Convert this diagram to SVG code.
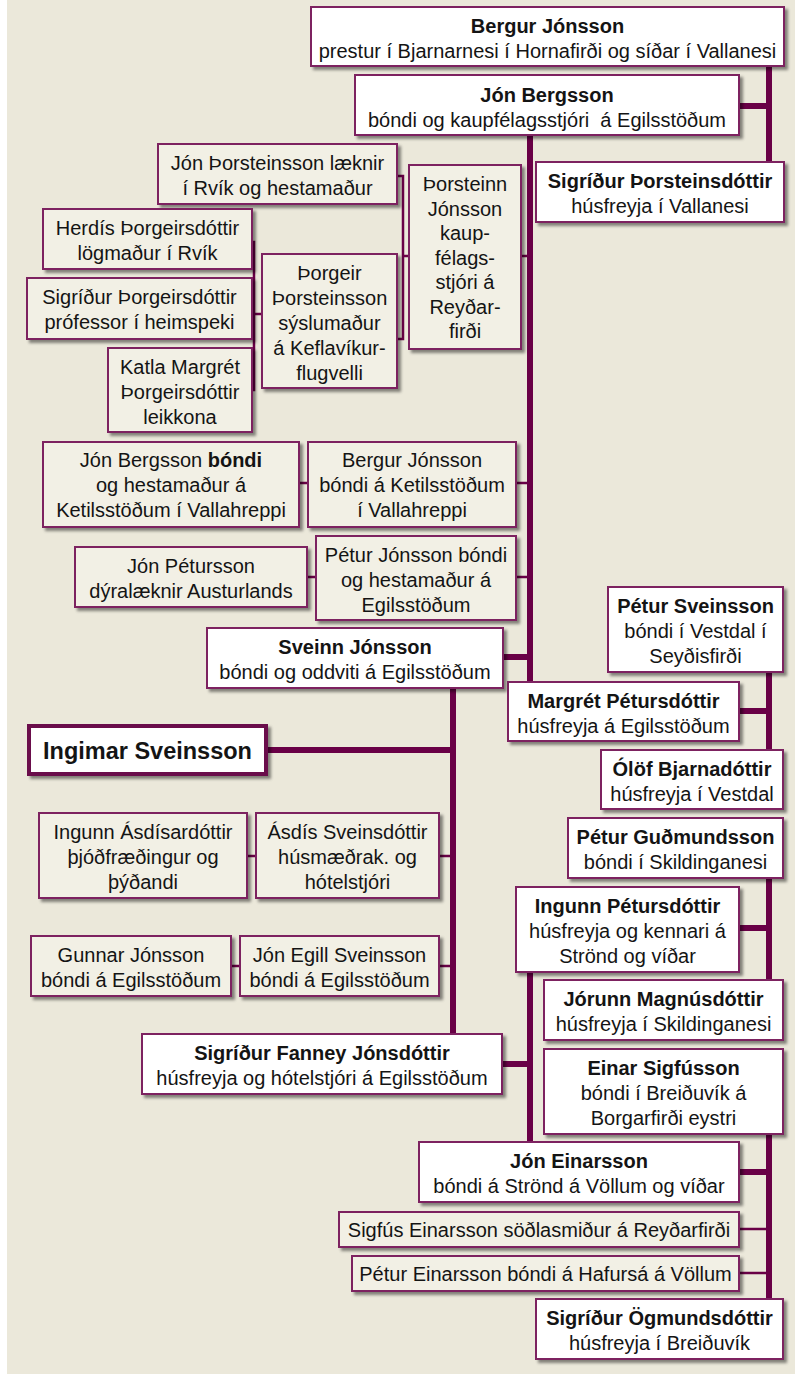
<svg xmlns="http://www.w3.org/2000/svg" width="795" height="1375" viewBox="0 0 795 1375">
<defs>
<filter id="sh" x="-10%" y="-10%" width="130%" height="140%">
<feDropShadow dx="3" dy="3" stdDeviation="1.6" flood-color="#000" flood-opacity="0.45"/>
</filter>
<style>
text{font-family:"Liberation Sans",Arial,sans-serif;font-size:20px;fill:#141414;text-anchor:middle}
.b{font-weight:bold}
.w{fill:#ffffff;stroke:#7d2461;stroke-width:2;filter:url(#sh)}
.s{fill:#f2f0e5;stroke:#7d2461;stroke-width:2;filter:url(#sh)}
.k{stroke:#690046;stroke-width:6;fill:none}
.th{stroke:#690046;stroke-width:2.5;fill:none}
</style>
</defs>
<rect x="0" y="0" width="795" height="1375" fill="#ffffff"/>
<rect x="7" y="0" width="788" height="1374" fill="#ebe8da"/>
<g id="connectors">
<path class="k" d="M769 66V162M739 106H769M530 135V682M503 657H530M453 688V1034M266 750H453M769 672V750M739 711H769M769 878V980M739 928H769M530 972V1142M502 1064H530M769 1134V1299M739 1172H769"/>
<path class="th" d="M521 256H530M397 176H403V339H397M403 256H409M252 242H254V390H252M252 314H262M299 483H308M516 483H530M307 577H316M516 577H530M247 856H256M439 856H453M231 966H240M439 966H453M739 1229H769M739 1273H769"/>
</g>
<g id="bergur-jonsson"><rect class="w" x="311" y="7" width="473" height="59"/><text class="b" x="547.5" y="33">Bergur Jónsson</text><text x="547.5" y="58">prestur í Bjarnarnesi í Hornafirði og síðar í Vallanesi</text></g>
<g id="jon-bergsson"><rect class="w" x="355" y="75" width="384" height="60"/><text class="b" x="547" y="102">Jón Bergsson</text><text x="547" y="127" xml:space="preserve">bóndi og kaupfélagsstjóri  á Egilsstöðum</text></g>
<g id="sigridur-thorsteinsdottir"><rect class="w" x="536" y="162" width="248" height="60"/><text class="b" x="660" y="188">Sigríður Þorsteinsdóttir</text><text x="660" y="213">húsfreyja í Vallanesi</text></g>
<g id="jon-thorsteinsson"><rect class="s" x="158" y="144" width="239" height="60"/><text x="277.5" y="170">Jón Þorsteinsson læknir</text><text x="277.5" y="195">í Rvík og hestamaður</text></g>
<g id="thorsteinn-jonsson"><rect class="s" x="409" y="165" width="112" height="184"/><text x="465" y="191">Þorsteinn</text><text x="465" y="215.5">Jónsson</text><text x="465" y="240">kaup-</text><text x="465" y="264.5">félags-</text><text x="465" y="289">stjóri á</text><text x="465" y="313.5">Reyðar-</text><text x="465" y="338">firði</text></g>
<g id="herdis"><rect class="s" x="43" y="209" width="209" height="60"/><text x="147.5" y="235">Herdís Þorgeirsdóttir</text><text x="147.5" y="260">lögmaður í Rvík</text></g>
<g id="sigridur-thorgeirsdottir"><rect class="s" x="27" y="278" width="225" height="61"/><text x="139.5" y="304">Sigríður Þorgeirsdóttir</text><text x="139.5" y="329">prófessor í heimspeki</text></g>
<g id="katla"><rect class="s" x="108" y="348" width="144" height="84"/><text x="180" y="374">Katla Margrét</text><text x="180" y="399">Þorgeirsdóttir</text><text x="180" y="424">leikkona</text></g>
<g id="thorgeir"><rect class="s" x="262" y="254" width="135" height="134"/><text x="329.5" y="280">Þorgeir</text><text x="329.5" y="305">Þorsteinsson</text><text x="329.5" y="330">sýslumaður</text><text x="329.5" y="355">á Keflavíkur-</text><text x="329.5" y="380">flugvelli</text></g>
<g id="jon-bergsson-bondi"><rect class="s" x="43" y="442" width="256" height="85"/><text x="171" y="467">Jón Bergsson <tspan class="b">bóndi</tspan></text><text x="171" y="492">og hestamaður á</text><text x="171" y="517">Ketilsstöðum í Vallahreppi</text></g>
<g id="bergur-jonsson-bondi"><rect class="s" x="308" y="442" width="208" height="85"/><text x="412" y="467">Bergur Jónsson</text><text x="412" y="492">bóndi á Ketilsstöðum</text><text x="412" y="517">í Vallahreppi</text></g>
<g id="jon-petursson"><rect class="s" x="75" y="547" width="232" height="60"/><text x="191" y="573">Jón Pétursson</text><text x="191" y="598">dýralæknir Austurlands</text></g>
<g id="petur-jonsson"><rect class="s" x="316" y="536" width="200" height="84"/><text x="416" y="562">Pétur Jónsson bóndi</text><text x="416" y="587">og hestamaður á</text><text x="416" y="612">Egilsstöðum</text></g>
<g id="sveinn-jonsson"><rect class="w" x="207" y="628" width="296" height="60"/><text class="b" x="355" y="654">Sveinn Jónsson</text><text x="355" y="679">bóndi og oddviti á Egilsstöðum</text></g>
<g id="petur-sveinsson"><rect class="w" x="608" y="587" width="175" height="85"/><text class="b" x="695.5" y="613">Pétur Sveinsson</text><text x="695.5" y="638">bóndi í Vestdal í</text><text x="695.5" y="663">Seyðisfirði</text></g>
<g id="margret-petursdottir"><rect class="w" x="508" y="682" width="231" height="59"/><text class="b" x="623.5" y="708">Margrét Pétursdóttir</text><text x="623.5" y="733">húsfreyja á Egilsstöðum</text></g>
<g id="olof-bjarnadottir"><rect class="w" x="601" y="750" width="182" height="59"/><text class="b" x="692" y="776">Ólöf Bjarnadóttir</text><text x="692" y="801">húsfreyja í Vestdal</text></g>
<g id="ingimar-sveinsson"><rect x="29" y="726" width="237" height="48" fill="#ffffff" stroke="#6b0a4b" stroke-width="4" filter="url(#sh)"/><text class="b" x="147.5" y="759" style="font-size:23.5px">Ingimar Sveinsson</text></g>
<g id="ingunn-asdisardottir"><rect class="s" x="39" y="813" width="208" height="85"/><text x="143" y="839">Ingunn Ásdísardóttir</text><text x="143" y="864">þjóðfræðingur og</text><text x="143" y="889">þýðandi</text></g>
<g id="asdis-sveinsdottir"><rect class="s" x="256" y="813" width="183" height="85"/><text x="347.5" y="839">Ásdís Sveinsdóttir</text><text x="347.5" y="864">húsmæðrak. og</text><text x="347.5" y="889">hótelstjóri</text></g>
<g id="gunnar-jonsson"><rect class="s" x="31" y="936" width="200" height="60"/><text x="131" y="962">Gunnar Jónsson</text><text x="131" y="987">bóndi á Egilsstöðum</text></g>
<g id="jon-egill-sveinsson"><rect class="s" x="240" y="936" width="199" height="60"/><text x="339.5" y="962">Jón Egill Sveinsson</text><text x="339.5" y="987">bóndi á Egilsstöðum</text></g>
<g id="petur-gudmundsson"><rect class="w" x="568" y="818" width="215" height="60"/><text class="b" x="675.5" y="844">Pétur Guðmundsson</text><text x="675.5" y="869">bóndi í Skildinganesi</text></g>
<g id="ingunn-petursdottir"><rect class="w" x="516" y="887" width="223" height="85"/><text class="b" x="627.5" y="913">Ingunn Pétursdóttir</text><text x="627.5" y="938">húsfreyja og kennari á</text><text x="627.5" y="963">Strönd og víðar</text></g>
<g id="jorunn-magnusdottir"><rect class="w" x="544" y="980" width="239" height="60"/><text class="b" x="663.5" y="1006">Jórunn Magnúsdóttir</text><text x="663.5" y="1031">húsfreyja í Skildinganesi</text></g>
<g id="sigridur-fanney-jonsdottir"><rect class="w" x="142" y="1034" width="360" height="60"/><text class="b" x="322" y="1060">Sigríður Fanney Jónsdóttir</text><text x="322" y="1085">húsfreyja og hótelstjóri á Egilsstöðum</text></g>
<g id="einar-sigfusson"><rect class="w" x="544" y="1049" width="239" height="85"/><text class="b" x="663.5" y="1075">Einar Sigfússon</text><text x="663.5" y="1100">bóndi í Breiðuvík á</text><text x="663.5" y="1125">Borgarfirði eystri</text></g>
<g id="jon-einarsson"><rect class="w" x="419" y="1142" width="320" height="60"/><text class="b" x="579" y="1168">Jón Einarsson</text><text x="579" y="1193">bóndi á Strönd á Völlum og víðar</text></g>
<g id="sigfus-einarsson"><rect class="s" x="339" y="1212" width="400" height="35"/><text x="539" y="1237">Sigfús Einarsson söðlasmiður á Reyðarfirði</text></g>
<g id="petur-einarsson"><rect class="s" x="352" y="1256" width="387" height="35"/><text x="545.5" y="1281">Pétur Einarsson bóndi á Hafursá á Völlum</text></g>
<g id="sigridur-ogmundsdottir"><rect class="w" x="536" y="1299" width="247" height="60"/><text class="b" x="659.5" y="1325">Sigríður Ögmundsdóttir</text><text x="659.5" y="1350">húsfreyja í Breiðuvík</text></g>
</svg>
